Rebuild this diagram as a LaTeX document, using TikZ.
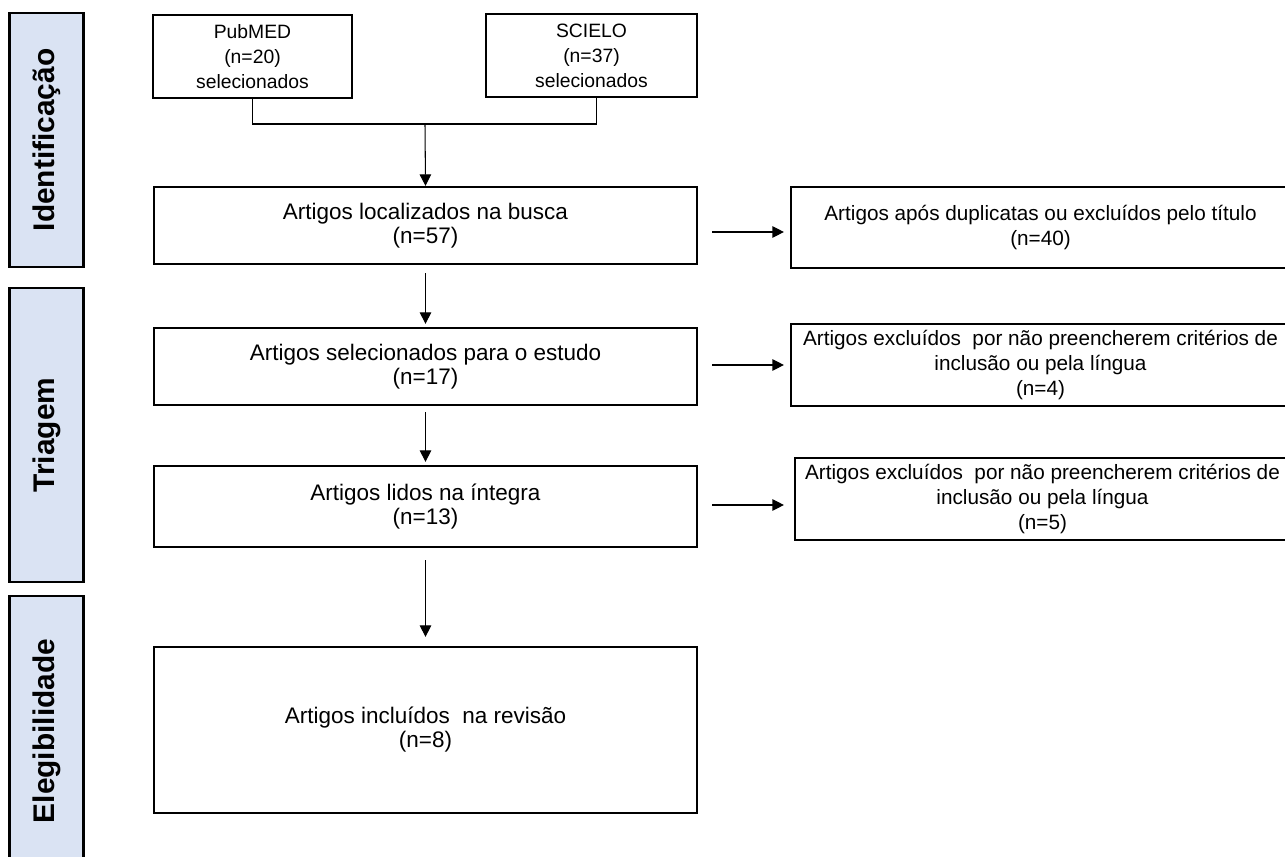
\documentclass[tikz,border=0pt]{standalone}
\usepackage{fontspec}
\setmainfont{Liberation Sans}
\usetikzlibrary{arrows.meta,calc}
\definecolor{barblue}{HTML}{DAE3F3}

\begin{document}
\begin{tikzpicture}[x=0.02cm,y=-0.02cm,
    phase/.style={draw, line width=1.3pt, fill=barblue, rotate=90, minimum height=1.48cm, inner sep=0pt, font=\bfseries\fontsize{17}{20}\selectfont},
    mainbox/.style={draw, line width=1.3pt, minimum width=10.86cm, align=center, inner sep=0pt, font=\fontsize{12.8}{13.7}\selectfont},
    sidebox/.style={draw, line width=1.3pt, minimum width=9.98cm, align=center, inner sep=0pt, font=\fontsize{11.8}{14.2}\selectfont},
    srcbox/.style={draw, line width=1.3pt, minimum height=1.66cm, align=center, inner sep=0pt, font=\fontsize{11}{14.2}\selectfont},
    arr/.style={-{Triangle[length=6.5pt,width=6.5pt]}, line width=0.6pt}]
    \clip (0,0) rectangle (1285,857);
    \fill[white] (0,0) rectangle (1285,857);
    % fases
    \node[phase, minimum width=5.08cm] (idf) at (46.5,140) {Identificação};
    \node[phase, minimum width=5.88cm] (tri) at (46.5,435) {Triagem};
    \node[phase, minimum width=5.4cm] (ele) at (46.5,731) {Elegibilidade};
    % bases
    \node[srcbox, minimum width=3.98cm] (pub) at (252.5,56.5) {PubMED\\(n=20)\\selecionados};
    \node[srcbox, minimum width=4.22cm] (sci) at (591.5,55.5) {SCIELO\\(n=37)\\selecionados};
    % coluna principal
    \node[mainbox, minimum height=1.54cm] (loc) at (425.5,225.5) {Artigos localizados na busca\\(n=57)};
    \node[mainbox, minimum height=1.54cm] (sel) at (425.5,366.5) {Artigos selecionados para o estudo\\(n=17)};
    \node[mainbox, minimum height=1.62cm] (int) at (425.5,506.5) {Artigos lidos na íntegra\\(n=13)};
    \node[mainbox, minimum height=3.32cm] (inc) at (425.5,730) {Artigos incluídos\ \ na revisão\\(n=8)};
    % excluidos
    \node[sidebox, minimum height=1.62cm] (dup) at (1040.5,227.5) {Artigos após duplicatas ou excluídos pelo título\\(n=40)};
    \node[sidebox, minimum height=1.64cm] (exa) at (1040.5,365) {Artigos excluídos\ \ por não preencherem critérios de\\inclusão ou pela língua\\(n=4)};
    \node[sidebox, minimum width=9.9cm, minimum height=1.64cm] (exb) at (1042.5,499) {Artigos excluídos\ \ por não preencherem critérios de\\inclusão ou pela língua\\(n=5)};
    % ligacoes
    \coordinate (jn) at (425,124);
    \draw[line width=0.6pt] (pub.south) |- (jn) -| ([xshift=0.1cm]sci.south);
    \draw[arr] (jn) -- (loc.north);
    \draw[arr] ([yshift=-0.16cm]loc.south) -- ([yshift=0.06cm]sel.north);
    \draw[arr] ([yshift=-0.12cm]sel.south) -- ([yshift=0.06cm]int.north);
    \draw[arr] ([yshift=-0.24cm]int.south) -- ([yshift=0.18cm]inc.north);
    \draw[arr] ([shift={(14,6.5)}]loc.east) coordinate (ha) -- ($(ha -| dup.west)+(-6,0)$);
    \draw[arr] ([shift={(14,-1.5)}]sel.east) coordinate (hb) -- ($(hb -| exa.west)+(-6,0)$);
    \draw[arr] ([shift={(14,-1.5)}]int.east) coordinate (hc) -- ($(hc -| exb.west)+(-10,0)$);
\end{tikzpicture}
\end{document}
